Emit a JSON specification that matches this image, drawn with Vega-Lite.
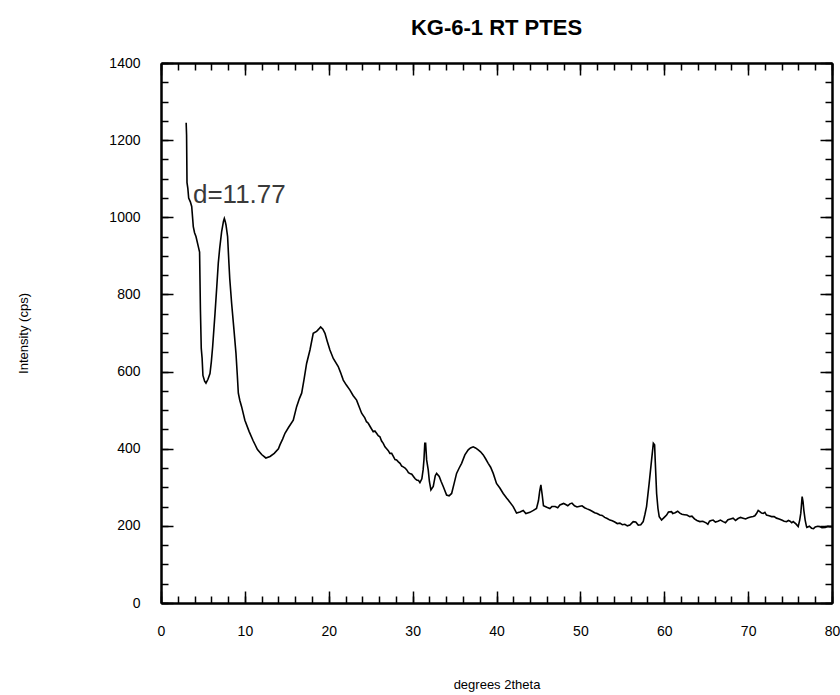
{
  "$schema": "https://vega.github.io/schema/vega-lite/v6.json",
  "width": 671,
  "height": 540,
  "autosize": {"type": "none"},
  "padding": {"left": 161, "top": 63, "right": 8, "bottom": 92},
  "background": "white",
  "config": {
    "view": {"stroke": null},
    "font": "Liberation Sans",
    "axis": {
      "domainColor": "black", "domainWidth": 2, "tickColor": "black", "tickWidth": 1.5,
      "grid": false, "labelColor": "black", "labelFont": "Liberation Sans", "labelFontSize": 14,
      "titleFont": "Liberation Sans", "titleFontWeight": "normal", "titleFontSize": 13, "titleColor": "black",
      "labelFlush": false
    }
  },
  "title": {"text": "KG-6-1 RT PTES", "fontSize": 22, "font": "Liberation Sans", "fontWeight": "bold", "color": "black", "anchor": "middle", "baseline": "alphabetic", "offset": -1},
  "datasets": {
    "xrd": [
      {"twotheta": 3.0, "intensity": 1245}, {"twotheta": 3.05, "intensity": 1213}, {"twotheta": 3.1, "intensity": 1090},
      {"twotheta": 3.2, "intensity": 1075}, {"twotheta": 3.3, "intensity": 1050}, {"twotheta": 3.5, "intensity": 1040},
      {"twotheta": 3.66, "intensity": 1028}, {"twotheta": 3.85, "intensity": 976}, {"twotheta": 4.0, "intensity": 960},
      {"twotheta": 4.17, "intensity": 950}, {"twotheta": 4.45, "intensity": 924}, {"twotheta": 4.6, "intensity": 910},
      {"twotheta": 4.7, "intensity": 760}, {"twotheta": 4.8, "intensity": 660}, {"twotheta": 4.9, "intensity": 635},
      {"twotheta": 5.0, "intensity": 590}, {"twotheta": 5.2, "intensity": 575}, {"twotheta": 5.36, "intensity": 570},
      {"twotheta": 5.6, "intensity": 580}, {"twotheta": 5.84, "intensity": 595}, {"twotheta": 6.0, "intensity": 625},
      {"twotheta": 6.16, "intensity": 665}, {"twotheta": 6.44, "intensity": 751}, {"twotheta": 6.65, "intensity": 820},
      {"twotheta": 6.83, "intensity": 881}, {"twotheta": 7.0, "intensity": 920}, {"twotheta": 7.23, "intensity": 963},
      {"twotheta": 7.45, "intensity": 990}, {"twotheta": 7.55, "intensity": 997}, {"twotheta": 7.65, "intensity": 990},
      {"twotheta": 7.75, "intensity": 980}, {"twotheta": 7.94, "intensity": 950}, {"twotheta": 8.1, "intensity": 880},
      {"twotheta": 8.2, "intensity": 840}, {"twotheta": 8.42, "intensity": 777}, {"twotheta": 8.7, "intensity": 708},
      {"twotheta": 8.94, "intensity": 647}, {"twotheta": 9.1, "intensity": 590}, {"twotheta": 9.22, "intensity": 544},
      {"twotheta": 9.4, "intensity": 525}, {"twotheta": 9.61, "intensity": 509}, {"twotheta": 10.0, "intensity": 474},
      {"twotheta": 10.5, "intensity": 445}, {"twotheta": 11.0, "intensity": 420}, {"twotheta": 11.5, "intensity": 398},
      {"twotheta": 12.0, "intensity": 385}, {"twotheta": 12.5, "intensity": 376}, {"twotheta": 13.0, "intensity": 380},
      {"twotheta": 13.5, "intensity": 388}, {"twotheta": 14.0, "intensity": 400}, {"twotheta": 14.18, "intensity": 410},
      {"twotheta": 14.5, "intensity": 425}, {"twotheta": 14.78, "intensity": 440}, {"twotheta": 15.2, "intensity": 455},
      {"twotheta": 15.77, "intensity": 474}, {"twotheta": 16.17, "intensity": 509}, {"twotheta": 16.5, "intensity": 530},
      {"twotheta": 16.77, "intensity": 544}, {"twotheta": 17.04, "intensity": 578}, {"twotheta": 17.36, "intensity": 621},
      {"twotheta": 17.76, "intensity": 656}, {"twotheta": 18.15, "intensity": 699}, {"twotheta": 18.55, "intensity": 704},
      {"twotheta": 18.8, "intensity": 710}, {"twotheta": 19.03, "intensity": 716}, {"twotheta": 19.3, "intensity": 710},
      {"twotheta": 19.55, "intensity": 699}, {"twotheta": 19.8, "intensity": 680}, {"twotheta": 20.14, "intensity": 656},
      {"twotheta": 20.54, "intensity": 634}, {"twotheta": 21.13, "intensity": 613}, {"twotheta": 21.4, "intensity": 598},
      {"twotheta": 21.73, "intensity": 578}, {"twotheta": 22.1, "intensity": 565}, {"twotheta": 22.53, "intensity": 552},
      {"twotheta": 22.9, "intensity": 538}, {"twotheta": 23.32, "intensity": 526}, {"twotheta": 23.6, "intensity": 510},
      {"twotheta": 23.92, "intensity": 492}, {"twotheta": 24.3, "intensity": 480}, {"twotheta": 24.5, "intensity": 470},
      {"twotheta": 24.71, "intensity": 466}, {"twotheta": 25.0, "intensity": 455}, {"twotheta": 25.3, "intensity": 444},
      {"twotheta": 25.5, "intensity": 446}, {"twotheta": 25.7, "intensity": 440}, {"twotheta": 25.9, "intensity": 434},
      {"twotheta": 26.1, "intensity": 431}, {"twotheta": 26.3, "intensity": 420}, {"twotheta": 26.5, "intensity": 414},
      {"twotheta": 26.7, "intensity": 405}, {"twotheta": 26.9, "intensity": 400}, {"twotheta": 27.1, "intensity": 395},
      {"twotheta": 27.29, "intensity": 388}, {"twotheta": 27.5, "intensity": 388}, {"twotheta": 27.7, "intensity": 380},
      {"twotheta": 27.9, "intensity": 372}, {"twotheta": 28.09, "intensity": 371}, {"twotheta": 28.3, "intensity": 366},
      {"twotheta": 28.5, "intensity": 362}, {"twotheta": 28.7, "intensity": 355}, {"twotheta": 28.88, "intensity": 353},
      {"twotheta": 29.1, "intensity": 350}, {"twotheta": 29.3, "intensity": 345}, {"twotheta": 29.5, "intensity": 338},
      {"twotheta": 29.68, "intensity": 336}, {"twotheta": 29.9, "intensity": 334}, {"twotheta": 30.1, "intensity": 328},
      {"twotheta": 30.3, "intensity": 322}, {"twotheta": 30.48, "intensity": 319}, {"twotheta": 30.7, "intensity": 318},
      {"twotheta": 30.87, "intensity": 312}, {"twotheta": 31.1, "intensity": 322},
      {"twotheta": 31.25, "intensity": 345}, {"twotheta": 31.35, "intensity": 371}, {"twotheta": 31.45, "intensity": 414},
      {"twotheta": 31.55, "intensity": 414}, {"twotheta": 31.67, "intensity": 371}, {"twotheta": 31.86, "intensity": 345},
      {"twotheta": 32.0, "intensity": 315}, {"twotheta": 32.18, "intensity": 293}, {"twotheta": 32.46, "intensity": 302},
      {"twotheta": 32.7, "intensity": 330}, {"twotheta": 32.86, "intensity": 336}, {"twotheta": 33.17, "intensity": 328},
      {"twotheta": 33.4, "intensity": 315}, {"twotheta": 33.65, "intensity": 302}, {"twotheta": 34.05, "intensity": 280},
      {"twotheta": 34.35, "intensity": 278}, {"twotheta": 34.65, "intensity": 284}, {"twotheta": 34.95, "intensity": 310},
      {"twotheta": 35.24, "intensity": 336}, {"twotheta": 35.55, "intensity": 350}, {"twotheta": 35.84, "intensity": 362},
      {"twotheta": 36.23, "intensity": 384}, {"twotheta": 36.63, "intensity": 397}, {"twotheta": 36.9, "intensity": 402},
      {"twotheta": 37.22, "intensity": 405}, {"twotheta": 37.5, "intensity": 402}, {"twotheta": 37.82, "intensity": 397},
      {"twotheta": 38.1, "intensity": 392}, {"twotheta": 38.42, "intensity": 384}, {"twotheta": 38.7, "intensity": 374},
      {"twotheta": 39.01, "intensity": 362}, {"twotheta": 39.3, "intensity": 352}, {"twotheta": 39.61, "intensity": 336},
      {"twotheta": 40.0, "intensity": 310}, {"twotheta": 40.4, "intensity": 298}, {"twotheta": 40.8, "intensity": 284},
      {"twotheta": 41.2, "intensity": 272}, {"twotheta": 41.4, "intensity": 267}, {"twotheta": 41.99, "intensity": 250},
      {"twotheta": 42.39, "intensity": 233}, {"twotheta": 42.8, "intensity": 236}, {"twotheta": 43.19, "intensity": 240},
      {"twotheta": 43.5, "intensity": 232}, {"twotheta": 43.98, "intensity": 235}, {"twotheta": 44.4, "intensity": 240},
      {"twotheta": 44.77, "intensity": 245}, {"twotheta": 45.0, "intensity": 265}, {"twotheta": 45.15, "intensity": 290},
      {"twotheta": 45.29, "intensity": 306}, {"twotheta": 45.45, "intensity": 280}, {"twotheta": 45.6, "intensity": 252},
      {"twotheta": 46.0, "intensity": 248}, {"twotheta": 46.36, "intensity": 245}, {"twotheta": 46.6, "intensity": 250},
      {"twotheta": 47.0, "intensity": 250}, {"twotheta": 47.3, "intensity": 247}, {"twotheta": 47.56, "intensity": 254},
      {"twotheta": 48.0, "intensity": 258}, {"twotheta": 48.2, "intensity": 256}, {"twotheta": 48.5, "intensity": 252},
      {"twotheta": 48.75, "intensity": 257}, {"twotheta": 49.0, "intensity": 259}, {"twotheta": 49.3, "intensity": 252},
      {"twotheta": 49.6, "intensity": 249}, {"twotheta": 49.94, "intensity": 251}, {"twotheta": 50.2, "intensity": 252},
      {"twotheta": 50.5, "intensity": 247}, {"twotheta": 50.8, "intensity": 244},
      {"twotheta": 51.13, "intensity": 241}, {"twotheta": 51.4, "intensity": 238}, {"twotheta": 51.7, "intensity": 234},
      {"twotheta": 52.0, "intensity": 232}, {"twotheta": 52.32, "intensity": 228}, {"twotheta": 52.6, "intensity": 227},
      {"twotheta": 52.9, "intensity": 222}, {"twotheta": 53.2, "intensity": 219}, {"twotheta": 53.52, "intensity": 215},
      {"twotheta": 53.8, "intensity": 213}, {"twotheta": 54.1, "intensity": 210}, {"twotheta": 54.4, "intensity": 206},
      {"twotheta": 54.71, "intensity": 207}, {"twotheta": 55.0, "intensity": 203}, {"twotheta": 55.3, "intensity": 204},
      {"twotheta": 55.6, "intensity": 200}, {"twotheta": 55.9, "intensity": 202},
      {"twotheta": 56.3, "intensity": 211}, {"twotheta": 56.6, "intensity": 210}, {"twotheta": 56.9, "intensity": 202},
      {"twotheta": 57.2, "intensity": 203}, {"twotheta": 57.49, "intensity": 211}, {"twotheta": 57.7, "intensity": 230},
      {"twotheta": 57.89, "intensity": 250}, {"twotheta": 58.2, "intensity": 310}, {"twotheta": 58.49, "intensity": 371},
      {"twotheta": 58.7, "intensity": 414}, {"twotheta": 58.85, "intensity": 410}, {"twotheta": 58.92, "intensity": 371},
      {"twotheta": 59.09, "intensity": 284}, {"twotheta": 59.25, "intensity": 245}, {"twotheta": 59.4, "intensity": 224},
      {"twotheta": 59.68, "intensity": 215}, {"twotheta": 60.0, "intensity": 222}, {"twotheta": 60.28, "intensity": 228},
      {"twotheta": 60.5, "intensity": 236}, {"twotheta": 60.87, "intensity": 237}, {"twotheta": 61.0, "intensity": 232},
      {"twotheta": 61.3, "intensity": 234}, {"twotheta": 61.6, "intensity": 238}, {"twotheta": 61.86, "intensity": 233},
      {"twotheta": 62.1, "intensity": 230}, {"twotheta": 62.4, "intensity": 229}, {"twotheta": 62.7, "intensity": 228},
      {"twotheta": 63.05, "intensity": 224}, {"twotheta": 63.3, "intensity": 225}, {"twotheta": 63.6, "intensity": 218},
      {"twotheta": 63.9, "intensity": 214}, {"twotheta": 64.24, "intensity": 211}, {"twotheta": 64.6, "intensity": 212},
      {"twotheta": 65.04, "intensity": 207}, {"twotheta": 65.2, "intensity": 204}, {"twotheta": 65.4, "intensity": 212},
      {"twotheta": 65.6, "intensity": 214}, {"twotheta": 65.83, "intensity": 215}, {"twotheta": 66.1, "intensity": 210},
      {"twotheta": 66.4, "intensity": 212}, {"twotheta": 66.7, "intensity": 215}, {"twotheta": 67.02, "intensity": 211},
      {"twotheta": 67.3, "intensity": 208}, {"twotheta": 67.6, "intensity": 216}, {"twotheta": 67.9, "intensity": 218},
      {"twotheta": 68.21, "intensity": 220}, {"twotheta": 68.5, "intensity": 214}, {"twotheta": 68.8, "intensity": 219},
      {"twotheta": 69.1, "intensity": 222}, {"twotheta": 69.4, "intensity": 220}, {"twotheta": 69.7, "intensity": 218},
      {"twotheta": 70.0, "intensity": 221}, {"twotheta": 70.3, "intensity": 223}, {"twotheta": 70.6, "intensity": 224},
      {"twotheta": 70.8, "intensity": 226}, {"twotheta": 71.0, "intensity": 232}, {"twotheta": 71.2, "intensity": 240},
      {"twotheta": 71.39, "intensity": 237}, {"twotheta": 71.6, "intensity": 233}, {"twotheta": 71.8, "intensity": 232},
      {"twotheta": 72.0, "intensity": 235}, {"twotheta": 72.19, "intensity": 228}, {"twotheta": 72.5, "intensity": 226},
      {"twotheta": 72.8, "intensity": 224}, {"twotheta": 73.1, "intensity": 224}, {"twotheta": 73.38, "intensity": 220},
      {"twotheta": 73.7, "intensity": 218}, {"twotheta": 74.0, "intensity": 215}, {"twotheta": 74.3, "intensity": 212},
      {"twotheta": 74.58, "intensity": 211}, {"twotheta": 74.8, "intensity": 214}, {"twotheta": 75.0, "intensity": 212},
      {"twotheta": 75.2, "intensity": 208}, {"twotheta": 75.37, "intensity": 211}, {"twotheta": 75.7, "intensity": 205},
      {"twotheta": 75.97, "intensity": 198},
      {"twotheta": 76.15, "intensity": 215}, {"twotheta": 76.28, "intensity": 233}, {"twotheta": 76.44, "intensity": 276},
      {"twotheta": 76.55, "intensity": 262}, {"twotheta": 76.64, "intensity": 241}, {"twotheta": 76.8, "intensity": 215},
      {"twotheta": 76.96, "intensity": 198}, {"twotheta": 77.0, "intensity": 196}, {"twotheta": 77.3, "intensity": 199},
      {"twotheta": 77.56, "intensity": 194}, {"twotheta": 77.8, "intensity": 193}, {"twotheta": 78.0, "intensity": 197},
      {"twotheta": 78.3, "intensity": 199}, {"twotheta": 78.54, "intensity": 198}, {"twotheta": 78.8, "intensity": 195},
      {"twotheta": 79.2, "intensity": 196}, {"twotheta": 79.5, "intensity": 199}, {"twotheta": 79.73, "intensity": 198},
      {"twotheta": 80.0, "intensity": 198}
    ],
    "ann": [{"twotheta": 3.81, "intensity": 1037, "label": "d=11.77"}]
  },
  "layer": [
    {
      "data": {"name": "xrd"},
      "mark": {"type": "line", "color": "black", "strokeWidth": 1.6},
      "encoding": {
        "x": {"field": "twotheta", "type": "quantitative", "scale": {"domain": [0, 80], "nice": false, "zero": false},
          "axis": {"orient": "bottom", "values": [0, 10, 20, 30, 40, 50, 60, 70, 80], "tickSize": -12, "labelPadding": 33, "title": "degrees 2theta", "titlePadding": 40, "format": "d"}},
        "y": {"field": "intensity", "type": "quantitative", "scale": {"domain": [0, 1400], "nice": false},
          "axis": {"orient": "left", "values": [0, 200, 400, 600, 800, 1000, 1200, 1400], "tickSize": -12, "labelPadding": 33, "title": "Intensity (cps)", "titlePadding": 78, "format": "d"}}
      }
    },
    {
      "data": {"name": "xrd"},
      "mark": {"type": "line", "opacity": 0},
      "encoding": {
        "x": {"field": "twotheta", "type": "quantitative",
          "axis": {"orient": "bottom", "values": [0,2,4,6,8,10,12,14,16,18,20,22,24,26,28,30,32,34,36,38,40,42,44,46,48,50,52,54,56,58,60,62,64,66,68,70,72,74,76,78,80], "tickSize": -7, "labels": false, "title": null}},
        "y": {"field": "intensity", "type": "quantitative",
          "axis": {"orient": "left", "values": [0,50,100,150,200,250,300,350,400,450,500,550,600,650,700,750,800,850,900,950,1000,1050,1100,1150,1200,1250,1300,1350,1400], "tickSize": -7, "labels": false, "title": null}}
      }
    },
    {
      "data": {"name": "xrd"},
      "mark": {"type": "line", "opacity": 0},
      "encoding": {
        "x": {"field": "twotheta", "type": "quantitative",
          "axis": {"orient": "top", "values": [0, 10, 20, 30, 40, 50, 60, 70, 80], "tickSize": -12, "labels": false, "title": null}},
        "y": {"field": "intensity", "type": "quantitative",
          "axis": {"orient": "right", "values": [0, 200, 400, 600, 800, 1000, 1200, 1400], "tickSize": -12, "labels": false, "title": null}}
      }
    },
    {
      "data": {"name": "xrd"},
      "mark": {"type": "line", "opacity": 0},
      "encoding": {
        "x": {"field": "twotheta", "type": "quantitative",
          "axis": {"orient": "top", "values": [0,2,4,6,8,10,12,14,16,18,20,22,24,26,28,30,32,34,36,38,40,42,44,46,48,50,52,54,56,58,60,62,64,66,68,70,72,74,76,78,80], "tickSize": -7, "labels": false, "title": null}},
        "y": {"field": "intensity", "type": "quantitative",
          "axis": {"orient": "right", "values": [0,50,100,150,200,250,300,350,400,450,500,550,600,650,700,750,800,850,900,950,1000,1050,1100,1150,1200,1250,1300,1350,1400], "tickSize": -7, "labels": false, "title": null}}
      }
    },
    {
      "data": {"name": "ann"},
      "mark": {"type": "text", "align": "left", "baseline": "alphabetic", "fontSize": 26, "font": "Liberation Sans", "color": "#3a3a3a"},
      "encoding": {
        "x": {"field": "twotheta", "type": "quantitative", "axis": null},
        "y": {"field": "intensity", "type": "quantitative", "axis": null},
        "text": {"field": "label"}
      }
    }
  ],
  "resolve": {"axis": {"x": "independent", "y": "independent"}}
}
